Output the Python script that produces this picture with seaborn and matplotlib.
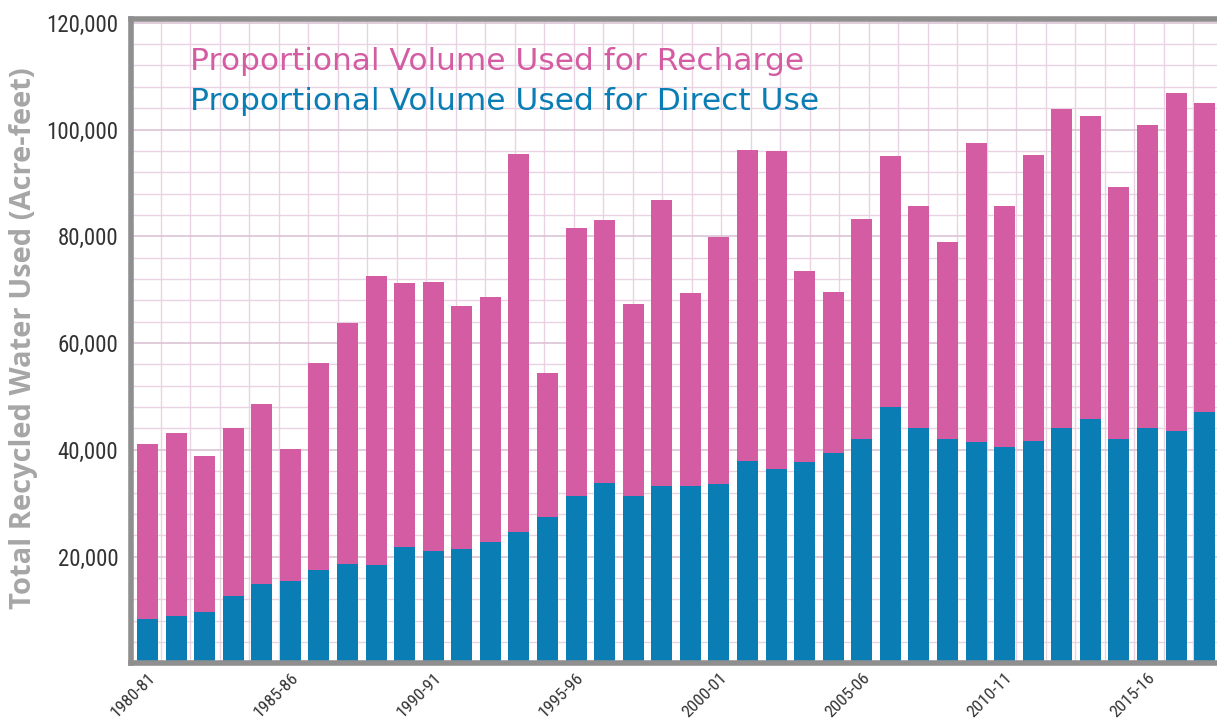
import numpy as np
import pandas as pd
import seaborn as sns
import matplotlib.pyplot as plt
from matplotlib import font_manager as fm
from matplotlib.ticker import FuncFormatter

# fiscal years 1980-81 .. 2017-18
years = [f"{y}-{str(y + 1)[-2:]}" for y in range(1980, 2018)]

# total recycled water used (acre-feet)
total_used = [41100, 43200, 38900, 44000, 48500, 40100, 56300, 63800, 72600, 71300,
              71400, 66900, 68700, 95400, 54400, 81500, 83000, 67300, 86800, 69400,
              79900, 96100, 95900, 73500, 69500, 83200, 95000, 85600, 78900, 97400,
              85600, 95300, 103900, 102500, 89200, 100800, 106800, 104900]

# portion used directly (blue part)
direct_use = [8300, 8900, 9600, 12700, 14900, 15400, 17500, 18700, 18400, 21800,
              21100, 21400, 22800, 24700, 27500, 31400, 33800, 31400, 33300, 33300,
              33600, 38000, 36400, 37700, 39400, 42100, 48000, 44100, 42100, 41400,
              40600, 41700, 44100, 45800, 42100, 44100, 43600, 47100]

shown_years = ["1980-81", "1985-86", "1990-91", "1995-96", "2000-01", "2005-06", "2010-11", "2015-16"]

df = pd.DataFrame({"year": years, "total": total_used, "direct": direct_use})

pink = "#d45ca2"
blue = "#0a7db5"

sns.set_theme(style="white")

# the tick labels use a narrow face, pick whatever narrow font is around
avail = {f.name for f in fm.fontManager.ttflist}
narrow_font = next((n for n in ["Liberation Sans Narrow", "Roboto Condensed",
                                "DejaVu Sans Condensed", "Open Sans Condensed"] if n in avail), None)
stretch = "normal"
if narrow_font is None:
    if any(f.name == "DejaVu Sans" and str(f.stretch) == "condensed" for f in fm.fontManager.ttflist):
        narrow_font, stretch = "DejaVu Sans", "condensed"
    else:
        narrow_font = "Roboto"
plt.rcParams['font.family'] = [narrow_font, 'DejaVu Sans']
plt.rcParams['font.stretch'] = stretch

fig = plt.figure(figsize=(12.17, 7.25), dpi=100)
ax = fig.add_axes([131 / 1217, (725 - 663.4) / 725, 1 - 131 / 1217, (663.4 - 19) / 725])

# pink = whole bar (recharge on top), blue drawn over it
sns.barplot(data=df, x="year", y="total", color=pink, saturation=1, width=0.735,
            linewidth=0, ax=ax)
sns.barplot(data=df, x="year", y="direct", color=blue, saturation=1, width=0.735,
            linewidth=0, ax=ax)

ax.set_xlim(-0.578, 37.43)
ax.set_ylim(0, 120700)

# pinkish graph-paper grid
ax.set_xticks(np.arange(-0.578, 37.43, 1.0326), minor=True)
ax.set_yticks(np.arange(0, 120001, 4000), minor=True)
ax.set_yticks(np.arange(20000, 120001, 20000))
ax.yaxis.set_major_formatter(FuncFormatter(lambda v, p: f"{int(v):,}"))

ax.grid(which="minor", color="#e9d3e3", linewidth=1)
ax.grid(which="major", axis="y", color="#dcc3d6", linewidth=1.2)
ax.grid(which="major", axis="x", visible=False)
ax.set_axisbelow(True)

ax.tick_params(which="both", length=0)
ax.tick_params(axis="y", pad=9, labelsize=16.5, labelcolor="#333333")
ax.tick_params(axis="x", pad=5, labelcolor="#333333")
ax.set_xticks([years.index(y) for y in shown_years])
ax.set_xticklabels(shown_years, rotation=45, ha="right", rotation_mode="anchor", fontsize=12.5)

for side in ["left", "bottom", "top"]:
    ax.spines[side].set_color("#8f8f8f")
    ax.spines[side].set_linewidth(4)
ax.spines["right"].set_visible(False)

ax.set_xlabel("")
ax.set_ylabel("")

fig.text(24 / 1217, (725 - 338) / 725, "Total Recycled Water Used (Acre-feet)",
         rotation=90, ha="center", va="center", color="#a6a6a6", fontsize=21,
         fontweight="bold", family=["Open Sans", "DejaVu Sans"], stretch="normal")

fig.text(190 / 1217, (725 - 70) / 725, "Proportional Volume Used for Recharge",
         color=pink, fontsize=22.5, va="baseline", family=["DejaVu Sans"], stretch="normal")
fig.text(190 / 1217, (725 - 110) / 725, "Proportional Volume Used for Direct Use",
         color=blue, fontsize=22.5, va="baseline", family=["DejaVu Sans"], stretch="normal")

fig.savefig("out.png", dpi=100)
